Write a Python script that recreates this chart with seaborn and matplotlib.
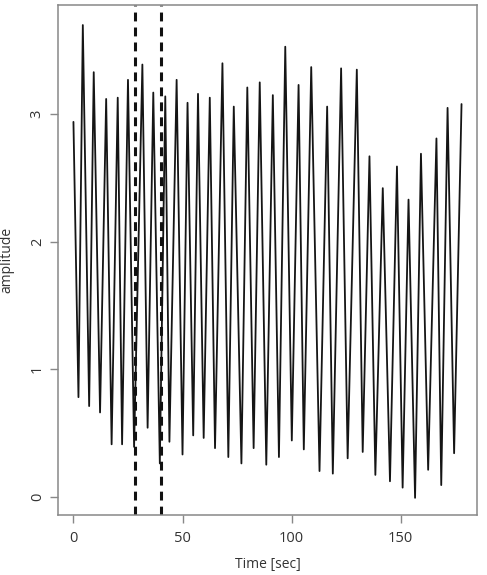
import matplotlib
matplotlib.use("Agg")
import matplotlib.pyplot as plt
import seaborn as sns
import pandas as pd

# Turning points (troughs / peaks)
time_sec = [0, 2.3, 4.3, 7.2, 9.3, 12.2, 15.0, 17.5, 20.3, 22.3,
            25.0, 27.8, 31.6, 34.0, 36.6, 39.6, 42.1, 44.0, 47.3, 50.0,
            52.3, 54.9, 57.1, 59.7, 62.5, 64.9, 68.3, 71.0, 73.5, 77.0,
            79.7, 82.6, 85.4, 88.4, 91.4, 94.2, 97.1, 100.1, 103.2, 105.6,
            109.0, 112.8, 116.3, 118.9, 122.7, 125.7, 129.9, 132.6, 135.7, 138.4,
            141.8, 145.1, 148.3, 150.9, 153.6, 156.6, 159.3, 162.6, 166.4, 168.6,
            171.5, 174.5, 177.9]
amplitude = [2.94, 0.78, 3.70, 0.71, 3.33, 0.66, 3.12, 0.41, 3.13, 0.41,
             3.27, 0.39, 3.39, 0.54, 3.17, 0.26, 3.14, 0.43, 3.27, 0.33,
             3.09, 0.48, 3.16, 0.46, 3.13, 0.38, 3.40, 0.31, 3.06, 0.26,
             3.21, 0.38, 3.25, 0.25, 3.15, 0.31, 3.53, 0.44, 3.23, 0.37,
             3.37, 0.20, 3.06, 0.18, 3.36, 0.30, 3.35, 0.35, 2.67, 0.17,
             2.42, 0.12, 2.59, 0.07, 2.33, -0.01, 2.69, 0.21, 2.81, 0.09,
             3.05, 0.34, 3.08]
marker_times = [28, 40]
x_ticks = [0, 50, 100, 150]
y_ticks = [0, 1, 2, 3]

sns.set_style("white")
plt.rcParams['font.family'] = ['Open Sans', 'DejaVu Sans']

df = pd.DataFrame({"t": time_sec, "amp": amplitude})

fig = plt.figure(figsize=(4.87, 5.75), dpi=100)
ax = fig.add_axes([0.119, 0.1043, 0.8605, 0.8865])

sns.lineplot(data=df, x="t", y="amp", ax=ax, color="#151515", linewidth=1.3,
             estimator=None, sort=False)
for mt in marker_times:
    ax.axvline(mt, color="#111111", linewidth=2.2, linestyle=(0, (2.9, 2.0)))

ax.set_xlim(-7.1, 185.0)
ax.set_ylim(-0.145, 3.855)
ax.set_xticks(x_ticks)
ax.set_yticks(y_ticks)
ax.set_xticklabels([str(v) for v in x_ticks])
ax.set_yticklabels([str(v) for v in y_ticks], rotation=90, va="center")

txt = "#333333"
for s in ax.spines.values():
    s.set_color("#888888")
    s.set_linewidth(1.1)
ax.tick_params(axis="both", direction="out", length=5.5, width=1.0,
               color="#888888", labelcolor=txt, labelsize=10.5,
               bottom=True, left=True)
ax.tick_params(axis="x", pad=6)
ax.tick_params(axis="y", pad=4)
ax.set_xlabel("Time [sec]", color=txt, fontsize=10)
ax.set_ylabel("amplitude", color=txt, fontsize=10)
ax.xaxis.set_label_coords(0.5, -0.083)
ax.yaxis.set_label_coords(-0.103, 0.5)

fig.savefig("out.png", dpi=100)
